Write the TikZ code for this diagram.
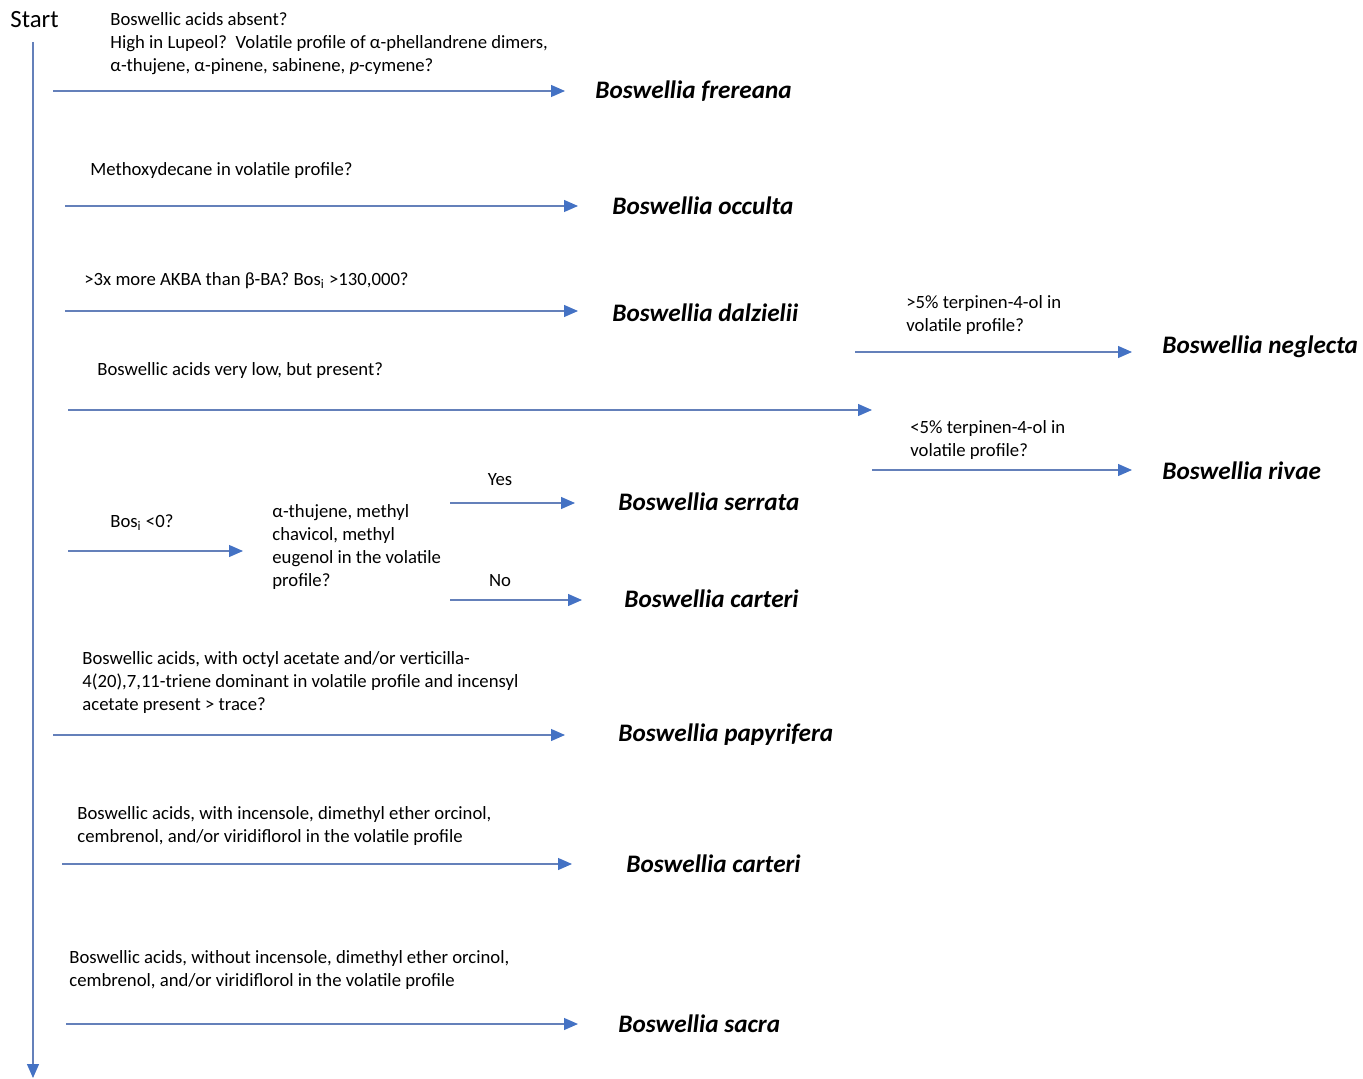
\documentclass[tikz,border=0pt]{standalone}
\usepackage{fontspec}
\setmainfont{Carlito}
\usetikzlibrary{arrows.meta}
\definecolor{lineblue}{RGB}{100,128,186}
\definecolor{tipblue}{RGB}{68,114,196}

\begin{document}
\begin{tikzpicture}[x=0.5pt,y=-0.5pt,
    ask/.style={anchor=west,inner sep=0pt,align=left,font=\fontsize{9.35}{11.5}\selectfont},
    species/.style={anchor=west,inner sep=0pt,font=\fontsize{12.6}{14}\selectfont\bfseries\itshape},
    arr/.style={draw=lineblue,line width=0.6pt,-{Triangle[length=7pt,width=6pt,color=tipblue]}}]
    \useasboundingbox (0,0) rectangle (1363,1079);

    % Start and main line
    \node[anchor=west,inner sep=0pt,font=\fontsize{12.4}{14}\selectfont] (start) at (10,20) {Start};
    \coordinate (top) at (33,42);
    \coordinate (bottom) at (33,1078);
    \draw[arr] (top) -- (bottom);

    % frereana
    \node[ask] (q1) at (110,44) {Boswellic acids absent?\\High in Lupeol?\ \ Volatile profile of α-phellandrene dimers,\\α-thujene, α-pinene, sabinene, \textit{p}-cymene?};
    \coordinate (a1) at (53,91);
    \coordinate (b1) at (565,91);
    \draw[arr] (a1) -- (b1);
    \node[species] (frereana) at (595,91) {Boswellia frereana};

    % occulta
    \node[ask] (q2) at (90,171) {Methoxydecane in volatile profile?};
    \coordinate (a2) at (65,206);
    \coordinate (b2) at (578,206);
    \draw[arr] (a2) -- (b2);
    \node[species] (occulta) at (612,206) {Boswellia occulta};

    % dalzielii
    \node[ask] (q3) at (84,281) {>3x more AKBA than β-BA? Bos\textsubscript{i} >130,000?};
    \coordinate (a3) at (65,311);
    \coordinate (b3) at (578,311);
    \draw[arr] (a3) -- (b3);
    \node[species] (dalzielii) at (612,313) {Boswellia dalzielii};

    % neglecta / rivae
    \node[ask] (q4) at (97,371) {Boswellic acids very low, but present?};
    \coordinate (a4) at (68,410);
    \coordinate (b4) at (872,410);
    \draw[arr] (a4) -- (b4);
    \node[ask] (q5) at (906,315) {>5\% terpinen-4-ol in\\volatile profile?};
    \coordinate (a5) at (855,352);
    \coordinate (b5) at (1132,352);
    \draw[arr] (a5) -- (b5);
    \node[species] (neglecta) at (1162,347) {Boswellia neglecta};
    \node[ask] (q6) at (910,440) {<5\% terpinen-4-ol in\\volatile profile?};
    \coordinate (a6) at (872,470);
    \coordinate (b6) at (1132,470);
    \draw[arr] (a6) -- (b6);
    \node[species] (rivae) at (1162,471) {Boswellia rivae};

    % serrata / carteri
    \node[ask] (q7) at (110,523) {Bos\textsubscript{i} <0?};
    \coordinate (a7) at (68,551);
    \coordinate (b7) at (243,551);
    \draw[arr] (a7) -- (b7);
    \node[ask] (q8) at (272,547) {α-thujene, methyl\\chavicol, methyl\\eugenol in the volatile\\profile?};
    \node[ask,anchor=center] (yes) at (500,480) {Yes};
    \coordinate (a8) at (450,503);
    \coordinate (b8) at (575,503);
    \draw[arr] (a8) -- (b8);
    \node[species] (serrata) at (618,502) {Boswellia serrata};
    \node[ask,anchor=center] (no) at (500,581) {No};
    \coordinate (a9) at (450,600);
    \coordinate (b9) at (582,600);
    \draw[arr] (a9) -- (b9);
    \node[species] (carteri) at (624,599) {Boswellia carteri};

    % papyrifera
    \node[ask] (q9) at (82,683) {Boswellic acids, with octyl acetate and/or verticilla-\\4(20),7,11-triene dominant in volatile profile and incensyl\\acetate present > trace?};
    \coordinate (a10) at (53,735);
    \coordinate (b10) at (565,735);
    \draw[arr] (a10) -- (b10);
    \node[species] (papyrifera) at (618,735) {Boswellia papyrifera};

    % carteri again
    \node[ask] (q10) at (77,826) {Boswellic acids, with incensole, dimethyl ether orcinol,\\cembrenol, and/or viridiflorol in the volatile profile};
    \coordinate (a11) at (62,864);
    \coordinate (b11) at (572,864);
    \draw[arr] (a11) -- (b11);
    \node[species] (carteri2) at (626,864) {Boswellia carteri};

    % sacra
    \node[ask] (q11) at (69,970) {Boswellic acids, without incensole, dimethyl ether orcinol,\\cembrenol, and/or viridiflorol in the volatile profile};
    \coordinate (a12) at (66,1024);
    \coordinate (b12) at (578,1024);
    \draw[arr] (a12) -- (b12);
    \node[species] (sacra) at (618,1024) {Boswellia sacra};
\end{tikzpicture}
\end{document}
